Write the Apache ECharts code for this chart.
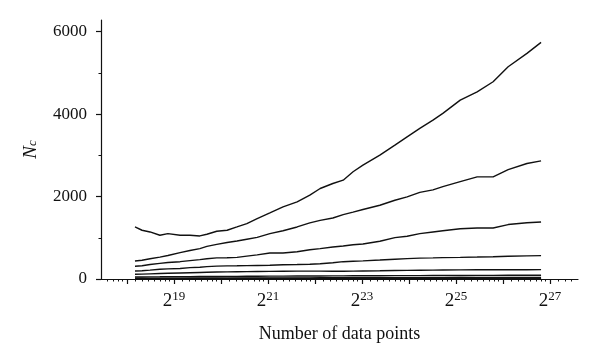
<!DOCTYPE html>
<html>
<head>
<meta charset="utf-8">
<script src="https://cdn.jsdelivr.net/npm/echarts@6/dist/echarts.min.js"></script>
<style>
  html, body { margin: 0; padding: 0; background: #fff; }
  #chart { width: 600px; height: 362px; }
</style>
</head>
<body>
<div id="chart"></div>
<script>
// x: log2(number of data points)
const xLog2 = [18.17,18.32,18.49,18.70,18.87,19.13,19.34,19.55,19.70,19.91,20.13,20.34,20.55,20.77,21.04,21.32,21.62,21.89,22.11,22.38,22.60,22.81,23.02,23.38,23.70,23.96,24.23,24.51,24.72,25.09,25.45,25.79,26.11,26.51,26.81];

const s1 = [1262,1182,1141,1060,1101,1060,1060,1044,1085,1158,1182,1262,1343,1465,1602,1748,1869,2032,2194,2315,2396,2600,2760,3002,3245,3447,3651,3852,4015,4337,4539,4782,5146,5471,5738];
const s2 = [437,454,490,530,570,640,690,737,790,840,885,922,965,1010,1100,1170,1262,1360,1420,1480,1560,1620,1684,1789,1910,1990,2100,2160,2240,2360,2476,2476,2650,2800,2864];
const s3 = [308,320,350,380,400,420,445,470,490,512,517,525,555,585,631,631,660,710,737,775,800,830,850,915,1004,1036,1101,1141,1170,1220,1238,1238,1320,1365,1383];
const s4 = [194,200,215,235,245,255,275,285,300,312,318,320,324,328,332,345,350,358,370,395,420,430,440,460,480,495,505,512,519,525,532,540,550,560,567];
const s5 = [114,118,125,132,138,146,152,158,162,168,172,176,180,183,186,188,190,190,190,188,187,190,195,200,205,208,212,215,218,222,225,226,224,226,228];
const s6 = [49,50,52,53,55,56,58,59,60,62,63,64,66,67,69,70,71,72,74,75,76,77,78,80,81,82,83,84,85,86,87,88,90,91,92];
const s7 = [20,20,21,21,22,22,23,23,24,24,25,25,26,26,27,27,28,28,29,29,30,30,31,31,32,32,33,34,34,35,36,37,38,39,40];
const s8 = [8,8,8,9,9,9,9,10,10,10,10,11,11,11,11,12,12,12,12,12,13,13,13,13,13,14,14,14,14,14,15,15,15,15,15];
const s9 = [3,3,3,3,3,3,3,3,3,4,4,4,4,4,4,4,4,4,4,4,4,4,5,5,5,5,5,5,5,5,5,5,5,5,5];
const allSeries = [s1, s2, s3, s4, s5, s6, s7, s8, s9];

const xMajorTicks = [18,19,20,21,22,23,24,25,26,27];
const xLabelExps = [19,21,23,25,27];
const yMajorTicks = [0,2000,4000,6000];
const yMinorTicks = [1000,3000,5000];

const X_MIN = 17.447, X_MAX = 27.596;
const Y_MIN = 0, Y_MAX = 6280;

// minor ticks on the log2 axis (linear subdivisions of each power of two)
const xMinorTicks = [];
for (let k = 17; k <= 27; k++) {
  for (let i = 1; i <= 7; i++) {
    const v = k + Math.log2(1 + i / 8);
    if (v > X_MIN + 0.05 && v < X_MAX - 0.02) xMinorTicks.push(v);
  }
}

const FONT = '"Liberation Serif", "DejaVu Serif", serif';
const INK = '#111';

const chart = echarts.init(document.getElementById('chart'), null, { renderer: 'canvas' });

const option = {
  animation: false,
  backgroundColor: '#fff',
  grid: { left: 101, right: 22, top: 20, bottom: 83, containLabel: false, outerBoundsMode: 'none' },
  xAxis: [
    {
      type: 'value', position: 'bottom', min: X_MIN, max: X_MAX,
      name: 'Number of data points', nameLocation: 'middle', nameGap: 46,
      nameTextStyle: { fontFamily: FONT, fontSize: 18, color: INK },
      axisLine: { show: true, lineStyle: { color: INK, width: 1.2 } },
      axisTick: { show: true, inside: false, length: 5, customValues: xMajorTicks, lineStyle: { color: INK, width: 1.2 } },
      axisLabel: {
        show: true, margin: 11, customValues: xLabelExps,
        formatter: v => '{b|2}{s|' + Math.round(v) + '}',
        rich: {
          b: { fontFamily: FONT, fontSize: 19, color: INK },
          s: { fontFamily: FONT, fontSize: 13, color: INK, padding: [0, 0, 9, 0] }
        }
      },
      splitLine: { show: false }
    },
    {
      type: 'value', position: 'bottom', min: X_MIN, max: X_MAX,
      axisLine: { show: false },
      axisTick: { show: true, inside: false, length: 2.5, customValues: xMinorTicks, lineStyle: { color: INK, width: 1 } },
      axisLabel: { show: false },
      splitLine: { show: false }
    }
  ],
  yAxis: [
    {
      type: 'value', position: 'left', min: Y_MIN, max: Y_MAX,
      name: '{n|N}{c|c}', nameLocation: 'middle', nameGap: 57, nameRotate: 90,
      nameTextStyle: {
        rich: {
          n: { fontFamily: FONT, fontSize: 19, fontStyle: 'italic', color: INK, padding: [0, 0, 4, 0] },
          c: { fontFamily: FONT, fontSize: 13, fontStyle: 'italic', color: INK }
        }
      },
      axisLine: { show: true, lineStyle: { color: INK, width: 1.2 } },
      axisTick: { show: true, inside: false, length: 5, customValues: yMajorTicks, lineStyle: { color: INK, width: 1.2 } },
      axisLabel: { show: true, margin: 14, customValues: yMajorTicks, formatter: v => String(v), fontFamily: FONT, fontSize: 17, color: INK },
      splitLine: { show: false }
    },
    {
      type: 'value', position: 'left', min: Y_MIN, max: Y_MAX,
      axisLine: { show: false },
      axisTick: { show: true, inside: false, length: 2.5, customValues: yMinorTicks, lineStyle: { color: INK, width: 1 } },
      axisLabel: { show: false },
      splitLine: { show: false }
    }
  ],
  series: allSeries.map(s => ({
    type: 'line',
    xAxisIndex: 0, yAxisIndex: 0,
    data: xLog2.map((x, i) => [x, s[i]]),
    showSymbol: false, symbol: 'none',
    lineStyle: { color: INK, width: 1.4 },
    silent: true
  }))
};

chart.setOption(option);
</script>
</body>
</html>
